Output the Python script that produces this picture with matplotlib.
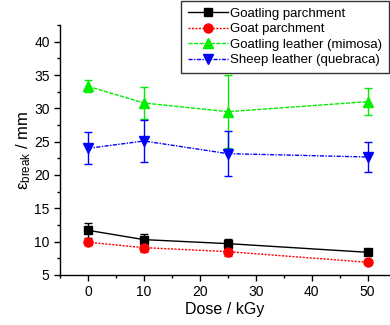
"""Elongation at break versus irradiation dose for parchment and leather samples."""

import matplotlib

matplotlib.use("Agg")
import matplotlib.pyplot as plt
from matplotlib.ticker import MultipleLocator

plt.rcParams["font.family"] = ["Liberation Sans", "DejaVu Sans"]
plt.rcParams["mathtext.fontset"] = "custom"
plt.rcParams["mathtext.rm"] = "Liberation Sans"
plt.rcParams["mathtext.it"] = "Liberation Sans:italic"

# --- Data -----------------------------------------------------------------------
DOSE = [0, 10, 25, 50]

GOATLING_PARCHMENT = [11.7, 10.3, 9.7, 8.4]
GOATLING_PARCHMENT_ERR = [1.1, 0.8, 0.7, 0.3]

GOAT_PARCHMENT = [9.9, 9.1, 8.5, 6.9]
GOAT_PARCHMENT_ERR = [0.4, 0.6, 0.6, 0.3]

GOATLING_LEATHER = [33.3, 30.8, 29.5, 31.0]
GOATLING_LEATHER_ERR = [0.9, 2.4, 5.5, 2.0]

SHEEP_LEATHER = [24.0, 25.1, 23.2, 22.7]
SHEEP_LEATHER_ERR = [2.4, 3.1, 3.4, 2.3]

LABELS = [
    "Goatling parchment",
    "Goat parchment",
    "Goatling leather (mimosa)",
    "Sheep leather (quebraca)",
]

# colour, marker, linestyle, marker size
STYLES = [
    ("black", "s", "-", 5.5),
    ("#ff0000", "o", (0, (1.5, 1)), 6.5),
    ("#00ee00", "^", (0, (3, 1)), 6.5),
    ("#0000ff", "v", (0, (3, 1, 1, 1)), 6.5),
]


def main() -> None:
    fig = plt.figure(figsize=(3.9, 3.25), dpi=100)
    ax = fig.add_axes([0.154, 0.154, 0.846, 0.769])

    series = [
        (GOATLING_PARCHMENT, GOATLING_PARCHMENT_ERR),
        (GOAT_PARCHMENT, GOAT_PARCHMENT_ERR),
        (GOATLING_LEATHER, GOATLING_LEATHER_ERR),
        (SHEEP_LEATHER, SHEEP_LEATHER_ERR),
    ]
    handles = []
    for (values, errors), label, (color, marker, ls, ms) in zip(series, LABELS, STYLES):
        eb = ax.errorbar(
            DOSE,
            values,
            yerr=errors,
            color=color,
            marker=marker,
            markersize=ms,
            linestyle=ls,
            linewidth=1.0,
            elinewidth=1.0,
            capsize=3,
            capthick=1.0,
            label=label,
        )
        handles.append(eb.lines[0])

    ax.set_xlim(-5, 54)
    ax.set_ylim(5, 42.5)
    ax.xaxis.set_major_locator(MultipleLocator(10))
    ax.xaxis.set_minor_locator(MultipleLocator(5))
    ax.yaxis.set_major_locator(MultipleLocator(5))
    ax.yaxis.set_minor_locator(MultipleLocator(2.5))

    for side in ("top", "right"):
        ax.spines[side].set_visible(False)
    for side in ("left", "bottom"):
        ax.spines[side].set_linewidth(1.0)
    ax.tick_params(which="major", direction="out", length=4, width=1.0, labelsize=10)
    ax.tick_params(which="minor", direction="out", length=2.5, width=1.0)

    ax.set_xlabel("Dose / kGy", fontsize=11.5, labelpad=2)
    ax.set_ylabel(r"ε$_{\mathrm{break}}$ / mm", fontsize=12, labelpad=1)

    leg = fig.legend(
        handles,
        LABELS,
        loc="upper right",
        bbox_to_anchor=(0.997, 0.997),
        fontsize=9.5,
        frameon=True,
        fancybox=False,
        edgecolor="black",
        handlelength=3.0,
        handletextpad=0.2,
        labelspacing=0.25,
        borderpad=0.5,
        borderaxespad=0,
    )
    leg.get_frame().set_linewidth(1.0)

    fig.savefig("out.png", dpi=100)


if __name__ == "__main__":
    main()
